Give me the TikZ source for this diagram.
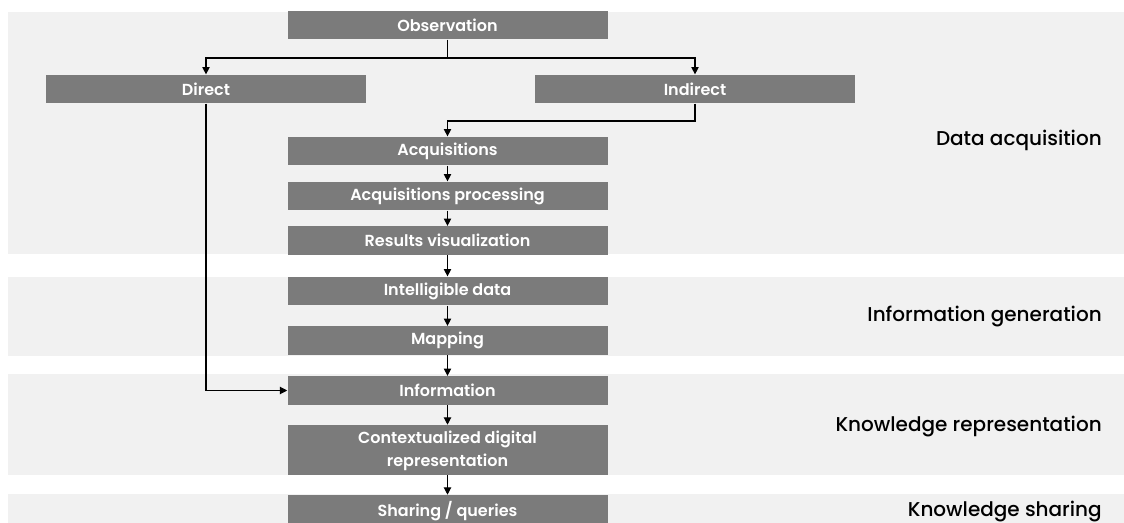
\documentclass[tikz,border=0pt]{standalone}
\usepackage{fontspec}
\setmainfont{Poppins}
\newfontfamily\medfont{Poppins Medium}
\newfontfamily\semifont{Poppins SemiBold}
\usetikzlibrary{arrows.meta,calc,positioning}
\definecolor{boxgray}{HTML}{7B7B7B}
\definecolor{bandgray}{HTML}{F1F1F1}
\tikzset{pin/.style={-{Triangle[length=5.5pt,width=5.5pt]}, line width=0.8pt},
  blk/.style={fill=boxgray, text=white, minimum width=240pt, minimum height=21.5pt, inner sep=0pt, font=\semifont\fontsize{12}{17}\selectfont, align=center},
  phase/.style={anchor=east, inner sep=0pt, font=\medfont\fontsize{15}{18}\selectfont, text=black}}

\begin{document}
\begin{tikzpicture}[x=0.75pt, y=-0.75pt]
  \clip (0,0) rectangle (1124,523);
  % background bands
  \fill[bandgray] (8,12)  rectangle (1124,254);
  \fill[bandgray] (8,277) rectangle (1124,356);
  \fill[bandgray] (8,374) rectangle (1124,475);
  \fill[bandgray] (8,494) rectangle (1124,523);
  % phase labels
  \node[phase] (lacq)  at (1102,140) {Data acquisition};
  \node[phase] (lgen)  at (1102,317) {Information generation};
  \node[phase] (lrep)  at (1102,427) {Knowledge representation};
  \node[phase] (lshr)  at (1102,512) {Knowledge sharing};
  % boxes
  \node[blk] (obs)      at (447.5,25)  {Observation};
  \node[blk] (direct)   at (206,89)    {Direct};
  \node[blk] (indirect) at (695,89)    {Indirect};
  \node[blk] (acq)      at (447.5,151) {Acquisitions};
  \node[blk] (proc)     at (447.5,196) {Acquisitions processing};
  \node[blk] (vis)      at (447.5,240.5) {Results visualization};
  \node[blk] (intel)    at (447.5,291) {Intelligible data};
  \node[blk] (map)      at (447.5,340.5) {Mapping};
  \node[blk] (info)     at (447.5,390.5) {Information};
  \node[blk, minimum height=37.5pt, text depth=2pt] (ctx) at (447.5,450) {Contextualized digital\\representation};
  \node[blk, minimum height=24pt] (share) at (447.5,511) {Sharing / queries};
  % connectors
  \coordinate (obsfork) at (447.5,58);
  \coordinate (indfork) at (447.5,121);
  \draw[line width=0.8pt] (obs.south) -- (obsfork);
  \draw[pin] (obsfork) -| (direct.north);
  \draw[pin] (obsfork) -| (indirect.north);
  \draw[pin] (indirect.south) |- (indfork) -- (acq.north);
  \draw[pin] (direct.south) |- (info.west);
  \foreach \a/\b in {acq/proc, proc/vis, vis/intel, intel/map, map/info, info/ctx, ctx/share}
    \draw[pin] (\a.south) -- (\b.north);
\end{tikzpicture}
\end{document}
